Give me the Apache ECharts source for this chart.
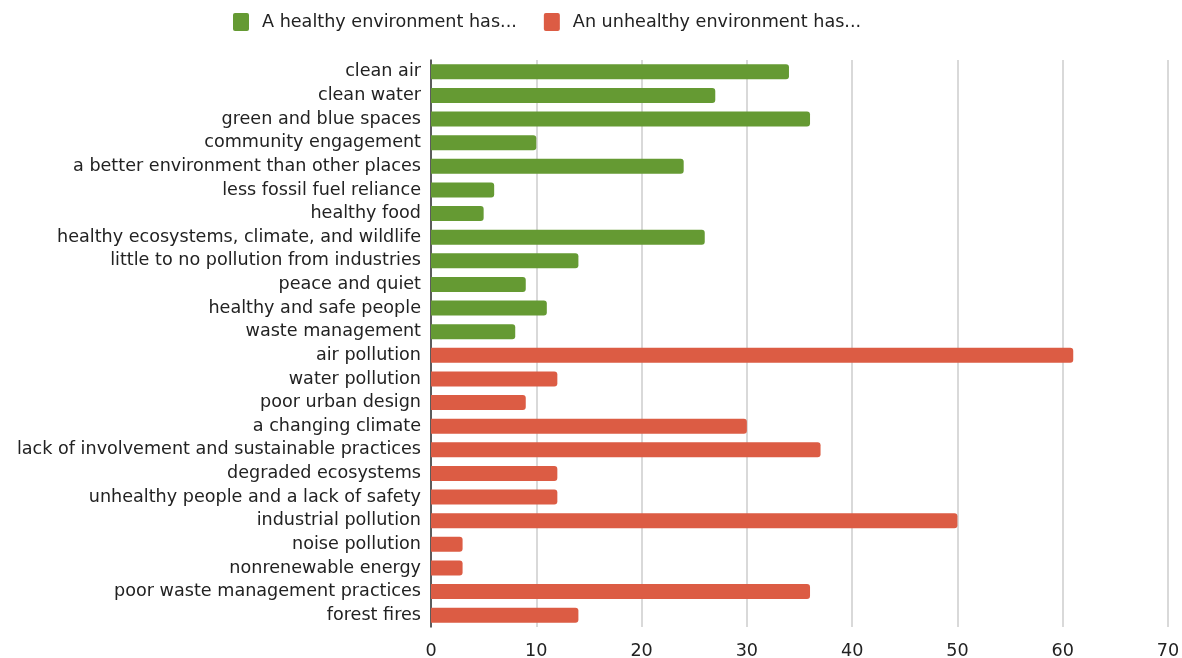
<!DOCTYPE html>
<html>
<head>
<meta charset="utf-8">
<script src="https://cdn.jsdelivr.net/npm/echarts@6/dist/echarts.min.js"></script>
<style>
  html, body { margin: 0; padding: 0; background: #fff; }
  #chart { width: 1182px; height: 658px; }
</style>
</head>
<body>
<div id="chart"></div>
<script>
// Category labels, top to bottom
const healthyCategories = [
  'clean air', 'clean water', 'green and blue spaces', 'community engagement',
  'a better environment than other places', 'less fossil fuel reliance', 'healthy food',
  'healthy ecosystems, climate, and wildlife', 'little to no pollution from industries',
  'peace and quiet', 'healthy and safe people', 'waste management'
];
const unhealthyCategories = [
  'air pollution', 'water pollution', 'poor urban design', 'a changing climate',
  'lack of involvement and sustainable practices', 'degraded ecosystems',
  'unhealthy people and a lack of safety', 'industrial pollution', 'noise pollution',
  'nonrenewable energy', 'poor waste management practices', 'forest fires'
];
const healthyValues = [34, 27, 36, 10, 24, 6, 5, 26, 14, 9, 11, 8];
const unhealthyValues = [61, 12, 9, 30, 37, 12, 12, 50, 3, 3, 36, 14];
const seriesNames = ['A healthy environment has...', 'An unhealthy environment has...'];
const xTicks = [0, 10, 20, 30, 40, 50, 60, 70];

const categories = healthyCategories.concat(unhealthyCategories);
const healthyData = healthyValues.concat(unhealthyCategories.map(() => null));
const unhealthyData = healthyCategories.map(() => null).concat(unhealthyValues);

const font = 'DejaVu Sans, Verdana, sans-serif';
const fs = 17.6;
const chart = echarts.init(document.getElementById('chart'));
chart.setOption({
  animation: false,
  textStyle: { fontFamily: font },
  legend: {
    top: 8,
    left: 228,
    itemWidth: 16,
    itemHeight: 18,
    itemGap: 27,
    icon: 'path://M2,0 L14,0 Q16,0 16,2 L16,16 Q16,18 14,18 L2,18 Q0,18 0,16 L0,2 Q0,0 2,0 Z',
    textStyle: { fontSize: fs, color: '#222', fontFamily: font, padding: [0, 0, 0, 8] },
    data: seriesNames
  },
  grid: { left: 431, right: 14, top: 60, bottom: 31, containLabel: false, outerBoundsMode: 'none' },
  xAxis: {
    type: 'value',
    min: xTicks[0],
    max: xTicks[xTicks.length - 1],
    interval: 10,
    axisLine: { show: false },
    axisTick: { show: false },
    axisLabel: { fontSize: fs, color: '#222', margin: 15, fontFamily: font },
    splitLine: { lineStyle: { color: '#cccccc', width: 1.5 } }
  },
  yAxis: {
    type: 'category',
    data: categories,
    inverse: true,
    axisLine: { show: true, lineStyle: { color: '#333', width: 1.5 } },
    axisTick: { show: false },
    axisLabel: { fontSize: fs, color: '#222', margin: 10, fontFamily: font, interval: 0, padding: [4, 0, 0, 0] }
  },
  series: [
    {
      name: seriesNames[0],
      type: 'bar',
      stack: 'all',
      data: healthyData,
      barWidth: '64%',
      itemStyle: { color: '#659a33', borderRadius: [0, 3, 3, 0] }
    },
    {
      name: seriesNames[1],
      type: 'bar',
      stack: 'all',
      data: unhealthyData,
      barWidth: '64%',
      itemStyle: { color: '#dc5c44', borderRadius: [0, 3, 3, 0] }
    }
  ]
});
</script>
</body>
</html>
